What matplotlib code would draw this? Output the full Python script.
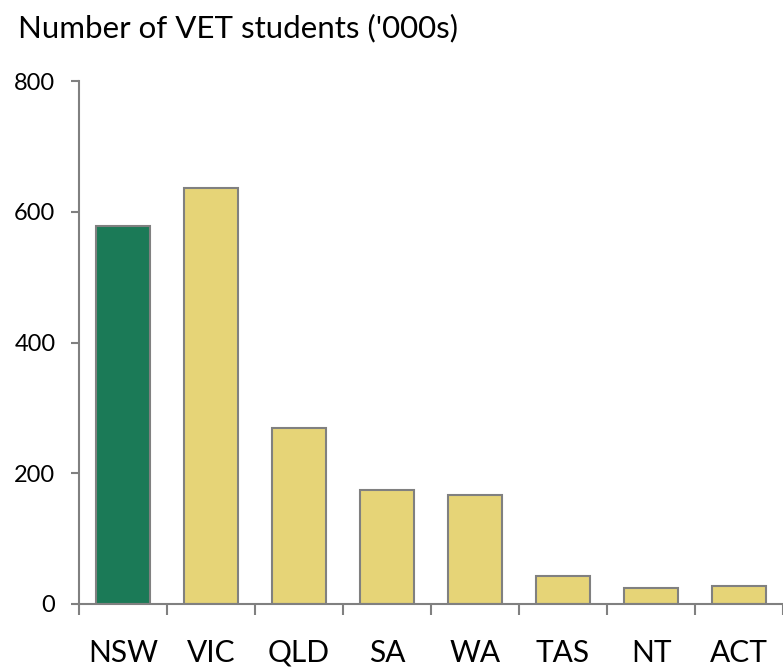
import matplotlib.pyplot as plt
import numpy as np

states = ["NSW", "VIC", "QLD", "SA", "WA", "TAS", "NT", "ACT"]
students = [578, 637, 269, 174, 167, 43, 25, 28]
highlight = "NSW"

plt.rcParams["font.family"] = ["Lato", "DejaVu Sans"]

fig = plt.figure(figsize=(7.83, 6.7), dpi=100)
ax = fig.add_axes([79 / 783, 66 / 670, 704 / 783, 523 / 670])

x = np.arange(len(states))
colors = ["#1b7a57" if s == highlight else "#e6d477" for s in states]
ax.bar(x, students, width=0.61, color=colors, edgecolor="#808080", linewidth=1.5, zorder=2)

ax.set_xlim(-0.5, 7.455)
ax.set_ylim(0, 800)
ax.set_yticks([0, 200, 400, 600, 800])

# category boundaries as ticks, labels in the middle
ax.set_xticks(np.arange(len(states) + 1) - 0.5)
ax.set_xticklabels([])
ax.set_xticks(x, minor=True)
ax.set_xticklabels(states, minor=True)
ax.tick_params(axis="x", which="major", length=8, width=1.5, color="#808080")
ax.tick_params(axis="x", which="minor", length=0, pad=25, labelsize=21.5)
ax.tick_params(axis="y", length=6, width=1.5, color="#808080", labelsize=17, pad=11)

for side in ["top", "right"]:
    ax.spines[side].set_visible(False)
for side in ["left", "bottom"]:
    ax.spines[side].set_color("#808080")
    ax.spines[side].set_linewidth(1.5)

fig.text(18 / 783, 1 - 28 / 670, "Number of VET students ('000s)", fontsize=22.5, va="center", ha="left")

fig.savefig("out.png", dpi=100)
